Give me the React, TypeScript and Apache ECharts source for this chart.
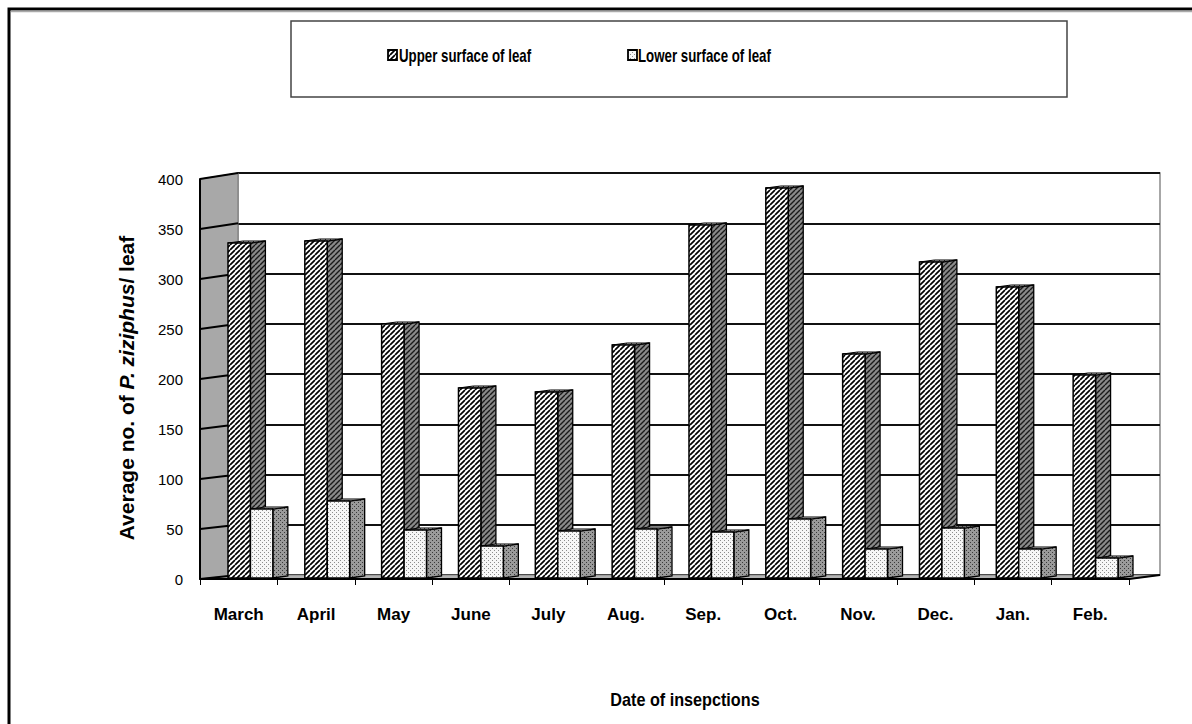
import React, { useEffect, useRef } from 'react';
import * as echarts from 'echarts';

const categories = ['March', 'April', 'May', 'June', 'July', 'Aug.', 'Sep.', 'Oct.', 'Nov.', 'Dec.', 'Jan.', 'Feb.'];
const upperSurface = [335, 337, 254, 190, 186, 233, 353, 390, 224, 316, 291, 203];
const lowerSurface = [69, 77, 48, 32, 47, 49, 46, 59, 29, 50, 29, 20];
const yTicks = [0, 50, 100, 150, 200, 250, 300, 350, 400];
const seriesNames = ['Upper surface of leaf', 'Lower surface of leaf'];
const xAxisTitle = 'Date of insepctions';

const SANS = '"Liberation Sans", Arial, sans-serif';

function makeHatch(bg: string, fg: string, size: number, lw: number) {
  const c = document.createElement('canvas');
  c.width = size; c.height = size;
  const ctx = c.getContext('2d')!;
  ctx.fillStyle = bg; ctx.fillRect(0, 0, size, size);
  ctx.strokeStyle = fg; ctx.lineWidth = lw;
  ctx.beginPath();
  for (const o of [-size, 0, size]) { ctx.moveTo(o, size); ctx.lineTo(o + size, 0); }
  ctx.stroke();
  return { image: c, repeat: 'repeat', imageWidth: size, imageHeight: size } as any;
}

function makeDots(bg: string, fg: string, size: number) {
  const c = document.createElement('canvas');
  c.width = size; c.height = size;
  const ctx = c.getContext('2d')!;
  ctx.fillStyle = bg; ctx.fillRect(0, 0, size, size);
  ctx.fillStyle = fg;
  ctx.fillRect(0, 0, 1, 1);
  ctx.fillRect(size / 2, size / 2, 1, 1);
  return { image: c, repeat: 'repeat', imageWidth: size, imageHeight: size } as any;
}

export default function App() {
  const ref = useRef<HTMLDivElement>(null);
  useEffect(() => {
    if (!ref.current) return;
    const chart = echarts.init(ref.current, undefined, { renderer: 'svg' });

    const upFront = makeHatch('#ffffff', '#000000', 5, 1.7);
    const upSide = makeHatch('#8a8a8a', '#1a1a1a', 5, 1.4);
    const upTop = makeHatch('#cfcfcf', '#333333', 5, 1);
    const loFront = makeDots('#f6f6f6', '#8c8c8c', 4);
    const loSide = makeDots('#9a9a9a', '#3a3a3a', 4);
    const loTop = makeDots('#d8d8d8', '#555555', 4);

    const makeBar = (which: number) => (params: any, api: any) => {
      const idx = api.value(0);
      const v = api.value(1);
      const top = api.coord([idx, v]);
      const base = api.coord([idx, 0]);
      const band = api.size([1, 0])[0];
      const w = band * 0.292;
      const dx = band * 0.195;
      const dy = -2;
      const x0 = which === 0 ? top[0] - w : top[0];
      const x1 = x0 + w;
      const yT = top[1];
      const yB = base[1];
      const front = which === 0 ? upFront : loFront;
      const side = which === 0 ? upSide : loSide;
      const topF = which === 0 ? upTop : loTop;
      return {
        type: 'group',
        children: [
          { type: 'polygon', shape: { points: [[x1, yB], [x1 + dx, yB + dy], [x1 + dx, yT + dy], [x1, yT]] }, style: { fill: side, stroke: '#000', lineWidth: 1.3 } },
          { type: 'polygon', shape: { points: [[x0, yT], [x1, yT], [x1 + dx, yT + dy], [x0 + dx, yT + dy]] }, style: { fill: topF, stroke: '#000', lineWidth: 1 } },
          { type: 'rect', shape: { x: x0, y: yT, width: w, height: yB - yT }, style: { fill: front, stroke: '#000', lineWidth: 1.5 } },
        ],
      };
    };

    const renderWalls = (params: any, api: any) => {
      const cs = params.coordSys;
      const xL = cs.x;
      const xR = cs.x + cs.width;
      const yTop = cs.y;
      const yBot = cs.y + cs.height;
      const d = 38;
      const y = api.coord([0, api.value(1)])[1];
      const children: any[] = [];
      if (params.dataIndex === 0) {
        children.push({ type: 'polygon', shape: { points: [[xL, yTop], [xL + d, yTop - 6], [xL + d, yBot - 4], [xL, yBot]] }, style: { fill: '#a8a8a8', stroke: '#777', lineWidth: 1 } });
        children.push({ type: 'polygon', shape: { points: [[xL, yBot], [xR, yBot], [xR + 31, yBot - 4], [xL + d, yBot - 4]] }, style: { fill: '#b4b4b4', stroke: '#888', lineWidth: 1 } });
        children.push({ type: 'line', shape: { x1: xR, y1: yBot, x2: xR + 31, y2: yBot - 4 }, style: { stroke: '#000', lineWidth: 2 } });
      }
      const frac = (yBot - y) / cs.height;
      children.push({ type: 'line', shape: { x1: xL, y1: y, x2: xL + d, y2: y - 4 - 2 * frac }, style: { stroke: '#000', lineWidth: 2 } });
      return { type: 'group', children };
    };

    const legendPos = [{ mx: 388, tx: 399 }, { mx: 628, tx: 638 }];
    const legendFills = [upFront, loFront];
    const legendGraphics: any[] = [];
    seriesNames.forEach((n, i) => {
      legendGraphics.push({ type: 'rect', z: 10, shape: { x: legendPos[i].mx, y: 50, width: 9, height: 10 }, style: { fill: legendFills[i], stroke: '#000', lineWidth: 1.8 } });
      legendGraphics.push({ type: 'text', z: 10, x: legendPos[i].tx, y: 55, scaleX: 0.7, style: { text: n, font: `bold 19px ${SANS}`, fill: '#000', align: 'left', verticalAlign: 'middle' } });
    });

    const option: any = {
      animation: false,
      backgroundColor: '#ffffff',
      graphic: [
        { type: 'polyline', z: 0, shape: { points: [[9, 724], [9, 9], [1192, 9]] }, style: { fill: null, stroke: '#000', lineWidth: 3 } },
        { type: 'line', z: 0, shape: { x1: 11, y1: 11.5, x2: 1192, y2: 11.5 }, style: { stroke: '#aaa', lineWidth: 1.5 } },
        { type: 'rect', z: 0, shape: { x: 291, y: 21, width: 776, height: 76 }, style: { fill: '#fff', stroke: '#444', lineWidth: 1.5 } },
        ...legendGraphics,
        { type: 'text', z: 5, x: 685, y: 700, scaleX: 0.9, style: { text: xAxisTitle, font: `bold 18px ${SANS}`, fill: '#000', align: 'center', verticalAlign: 'middle' } },
      ],
      grid: [
        { left: 200, right: 63, top: 179, bottom: 145 },
        { left: 238, right: 32, top: 173, bottom: 149, show: true, borderColor: '#8a8a8a', borderWidth: 1.5, backgroundColor: 'transparent' },
        { left: 212, right: 58, top: 178, bottom: 146 },
      ],
      xAxis: [
        {
          gridIndex: 0, type: 'category', data: categories, boundaryGap: true, z: 6,
          axisLine: { show: true, lineStyle: { color: '#000', width: 2 } },
          axisTick: { show: true, interval: 0, length: 6, lineStyle: { color: '#000', width: 1 } },
          axisLabel: { interval: 0, margin: 27, fontFamily: SANS, fontWeight: 'bold', fontSize: 17, color: '#000' },
        },
        { gridIndex: 1, type: 'category', data: categories, show: false },
        { gridIndex: 2, type: 'category', data: categories, show: false },
      ],
      yAxis: [
        {
          gridIndex: 0, type: 'value', min: 0, max: 400, interval: 50, z: 6,
          axisLine: { show: true, lineStyle: { color: '#000', width: 2 } },
          axisTick: { show: false },
          splitLine: { show: false },
          axisLabel: { margin: 17, fontFamily: SANS, fontSize: 15, color: '#000' },
          name: '{a|Average no. of }{b|P. ziziphus}{a|/ leaf}',
          nameLocation: 'middle',
          nameGap: 63,
          nameRotate: 90,
          nameTextStyle: {
            padding: [0, 18, 0, 0],
            rich: {
              a: { fontFamily: SANS, fontWeight: 'bold', fontSize: 21, color: '#000' },
              b: { fontFamily: SANS, fontWeight: 'bold', fontStyle: 'italic', fontSize: 21, color: '#000' },
            },
          },
        },
        {
          gridIndex: 1, type: 'value', min: 0, max: 400, interval: 50,
          axisLine: { show: false }, axisTick: { show: false }, axisLabel: { show: false },
          splitLine: { show: true, lineStyle: { color: '#111', width: 2 } },
        },
        { gridIndex: 2, type: 'value', min: 0, max: 400, interval: 50, show: false, splitLine: { show: false } },
      ],
      series: [
        {
          type: 'custom', name: 'walls', xAxisIndex: 0, yAxisIndex: 0, z: 1, silent: true,
          renderItem: renderWalls,
          data: yTicks.map((v) => [0, v]),
        },
        {
          type: 'custom', name: seriesNames[0], xAxisIndex: 2, yAxisIndex: 2, z: 3,
          itemStyle: { color: upFront },
          renderItem: makeBar(0),
          encode: { x: 0, y: 1 },
          data: upperSurface.map((v, i) => [i, v]),
        },
        {
          type: 'custom', name: seriesNames[1], xAxisIndex: 2, yAxisIndex: 2, z: 4,
          itemStyle: { color: loFront },
          renderItem: makeBar(1),
          encode: { x: 0, y: 1 },
          data: lowerSurface.map((v, i) => [i, v]),
        },
      ],
    };
    chart.setOption(option);
    return () => chart.dispose();
  }, []);
  return <div ref={ref} style={{ position: 'fixed', left: 0, top: 0, width: 1192, height: 724 }} />;
}
